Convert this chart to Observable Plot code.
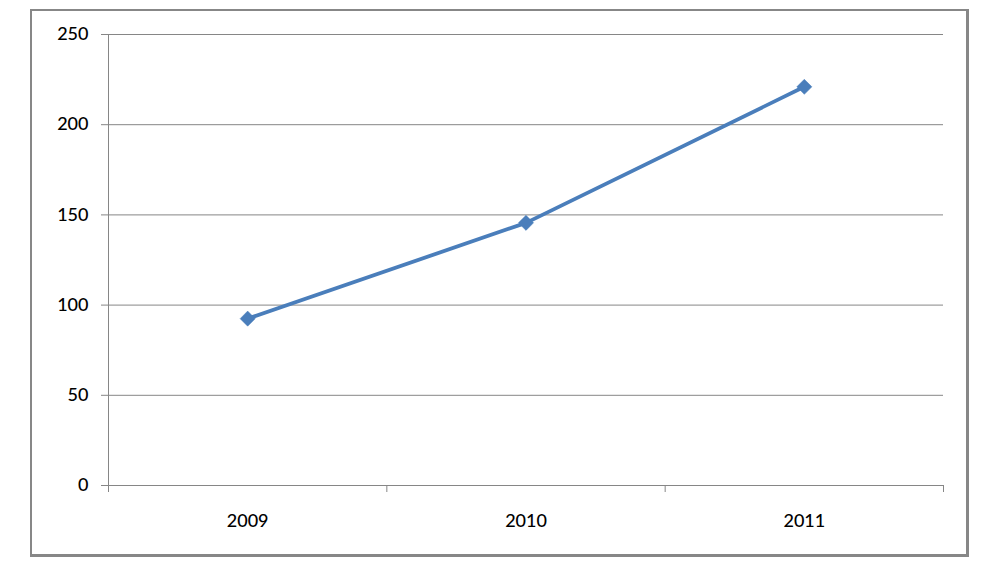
<!DOCTYPE html>
<html>
<head>
<meta charset="utf-8">
<script src="https://cdn.jsdelivr.net/npm/d3@7"></script>
<script src="https://cdn.jsdelivr.net/npm/@observablehq/plot@0.6"></script>
<style>
  html, body { margin: 0; padding: 0; background: #fff; }
  #wrap { position: relative; width: 985px; height: 584px; }
  #border { position: absolute; left: 30px; top: 9px; width: 934px; height: 543px;
            border: 2px solid #878787; border-right-width: 3px; border-bottom-width: 3px; pointer-events: none; }
</style>
</head>
<body>
<div id="wrap"><div id="border"></div></div>
<script>
const years = [2009, 2010, 2011];
const values = [92.5, 145.6, 221];
const yTicks = [0, 50, 100, 150, 200, 250];
const bandEdges = [2008.5, 2009.5, 2010.5, 2011.5];

const data = years.map((y, i) => ({year: y, value: values[i]}));
const font = "Lato, 'Open Sans', sans-serif";
const gray = "#868686";
const blue = "#4a7ebb";

const chart = Plot.plot({
  width: 985,
  height: 584,
  marginLeft: 108,
  marginRight: 42,
  marginTop: 34,
  marginBottom: 99,
  style: {fontFamily: font, fontSize: "18px", fontWeight: 500, color: "#000", background: "transparent", overflow: "visible"},
  x: {domain: [2008.5, 2011.5]},
  y: {domain: [0, 250]},
  marks: [
    Plot.ruleY(yTicks, {x1: 2008.5, x2: 2011.5, stroke: gray, strokeWidth: 1, strokeOpacity: 1}),
    Plot.ruleX([2008.5], {y1: 0, y2: 250, stroke: gray, strokeOpacity: 1}),
    Plot.axisY({ticks: yTicks, tickSize: 7, tickPadding: 13, stroke: gray, strokeOpacity: 1, label: null, fill: "#000"}),
    Plot.axisX({ticks: bandEdges, tickSize: 7, tickFormat: () => "", stroke: gray, strokeOpacity: 1, label: null}),
    Plot.axisX({ticks: years, tickSize: 0, tickPadding: 29, tickFormat: d => String(d), label: null, fill: "#000"}),
    Plot.line(data, {x: "year", y: "value", stroke: blue, strokeWidth: 3.8}),
    Plot.dot(data, {x: "year", y: "value", symbol: "diamond2", r: 6.8, fill: blue, stroke: blue, strokeWidth: 0.5})
  ]
});
document.getElementById("wrap").prepend(chart);
</script>
</body>
</html>
